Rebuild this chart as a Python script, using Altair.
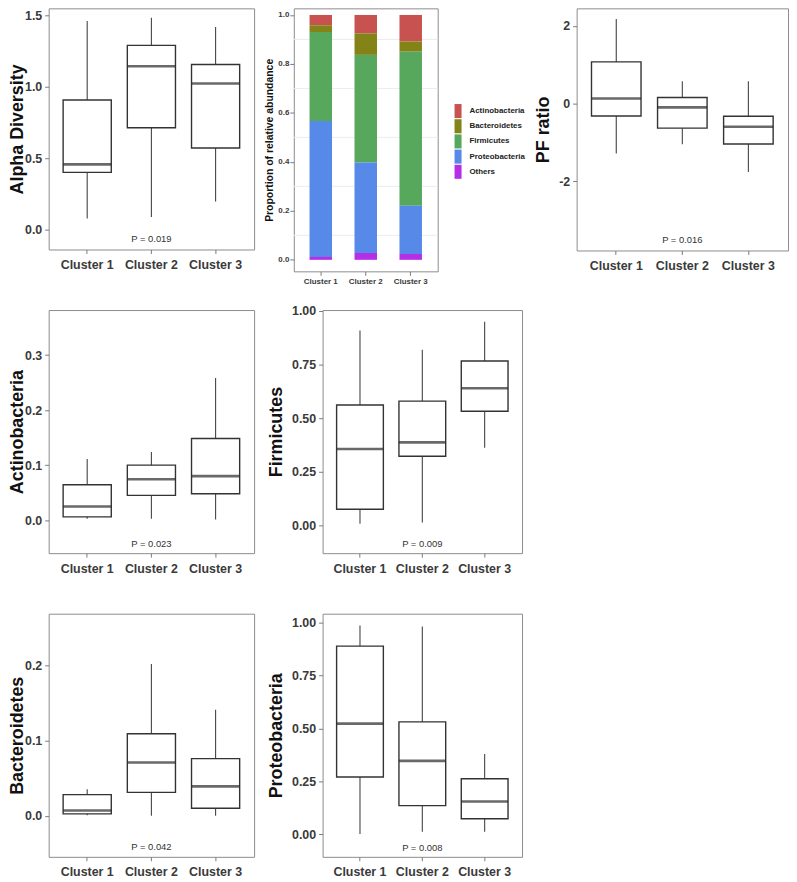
import altair as alt
import pandas as pd

CLUSTERS = ["Cluster 1", "Cluster 2", "Cluster 3"]

# ---- box-plot summaries: lower whisker, Q1, median, Q3, upper whisker ----
ALPHA_LO = [0.079, 0.090, 0.199]
ALPHA_Q1 = [0.402, 0.714, 0.573]
ALPHA_MED = [0.458, 1.144, 1.024]
ALPHA_Q3 = [0.908, 1.290, 1.156]
ALPHA_HI = [1.461, 1.484, 1.419]

PF_LO = [-1.291, -1.053, -1.766]
PF_Q1 = [-0.323, -0.637, -1.045]
PF_MED = [0.127, -0.102, -0.603]
PF_Q3 = [1.070, 0.153, -0.331]
PF_HI = [2.174, 0.569, 0.569]

ACT_LO = [0.0024, 0.0024, 0.0012]
ACT_Q1 = [0.006, 0.045, 0.048]
ACT_MED = [0.0247, 0.0745, 0.080]
ACT_Q3 = [0.0643, 0.100, 0.1485]
ACT_HI = [0.111, 0.124, 0.2585]

FIR_LO = [0.0077, 0.0139, 0.362]
FIR_Q1 = [0.0755, 0.322, 0.532]
FIR_MED = [0.356, 0.387, 0.639]
FIR_Q3 = [0.561, 0.579, 0.766]
FIR_HI = [0.9076, 0.818, 0.949]

BAC_LO = [0.0009, 0.0, 0.0]
BAC_Q1 = [0.0026, 0.0312, 0.0101]
BAC_MED = [0.0070, 0.0708, 0.0391]
BAC_Q3 = [0.0281, 0.109, 0.076]
BAC_HI = [0.0352, 0.2018, 0.141]

PRO_LO = [0.0016, 0.0125, 0.0125]
PRO_Q1 = [0.271, 0.136, 0.0736]
PRO_MED = [0.523, 0.347, 0.155]
PRO_Q3 = [0.889, 0.531, 0.263]
PRO_HI = [0.986, 0.981, 0.380]

# ---- P-value annotations (text, y value) ----
P_ALPHA = ("P = 0.019", -0.065)
P_PF = ("P = 0.016", -3.516)
P_ACT = ("P = 0.023", -0.043)
P_FIR = ("P = 0.009", -0.085)
P_BAC = ("P = 0.042", -0.042)
P_PRO = ("P = 0.008", -0.063)

# ---- relative abundance composition (stacked bars) ----
PHYLA = ["Actinobacteria", "Bacteroidetes", "Firmicutes", "Proteobacteria", "Others"]
PHYLA_COLORS = ["#C8524F", "#848318", "#57A85D", "#5689E8", "#B52FE6"]
STACK_RANK = [4, 3, 2, 1, 0]
COMP = {
    "Actinobacteria": [0.042, 0.075, 0.108],
    "Bacteroidetes": [0.028, 0.088, 0.042],
    "Firmicutes": [0.363, 0.440, 0.629],
    "Proteobacteria": [0.555, 0.369, 0.197],
    "Others": [0.012, 0.028, 0.024],
}
PROP_TICKS = [0.0, 0.2, 0.4, 0.6, 0.8, 1.0]
PROP_MINOR_GRID = [0.1, 0.3, 0.5, 0.7, 0.9]

FONT = "Liberation Sans"


def x_enc(width, label_size=12.5, label_pad=5):
    return alt.X(
        "cluster:N",
        scale=alt.Scale(domain=CLUSTERS, paddingInner=0, paddingOuter=0.1),
        axis=alt.Axis(title=None, labelAngle=0, labelFontSize=label_size, labelPadding=label_pad),
    )


def box_panel(title, lo, q1, med, q3, hi, domain, ticks, fmt, ptxt, width, height, extent, tpad,
              label_expr=None):
    df = pd.DataFrame({"cluster": CLUSTERS, "lo": lo, "q1": q1, "med": med, "q3": q3, "hi": hi})
    pdf = pd.DataFrame({"cluster": ["Cluster 2"], "py": [ptxt[1]], "label": [ptxt[0]]})
    yscale = alt.Scale(domain=domain, nice=False, zero=False)
    axis_kw = dict(title=title, values=ticks, format=fmt, minExtent=extent, maxExtent=extent, titlePadding=tpad)
    if label_expr:
        axis_kw["labelExpr"] = label_expr
    yaxis = alt.Axis(**axis_kw)

    def y(field):
        return alt.Y(field, scale=yscale, axis=yaxis)

    x = x_enc(width)
    step = width / 3.2
    base = alt.Chart(df)
    whisk = base.mark_rule(color="#444444", strokeWidth=1.1).encode(x=x, y=y("lo:Q"), y2="hi:Q")
    box = base.mark_bar(size=step * 0.75, fill="white", stroke="#333333", strokeWidth=1.4).encode(
        x=x, y=y("q1:Q"), y2="q3:Q"
    )
    mline = base.mark_tick(color="#2a2a2a", thickness=2.6, size=step * 0.75).encode(x=x, y=y("med:Q"))
    ptext = alt.Chart(pdf).mark_text(font=FONT, fontSize=9.5, color="#333333").encode(
        x=x, y=y("py:Q"), text="label:N"
    )
    return alt.layer(whisk, box, mline, ptext).properties(width=width, height=height)


# ---- stacked composition panel ----
rows = []
for ph, rank in zip(PHYLA, STACK_RANK):
    for c, v in zip(CLUSTERS, COMP[ph]):
        rows.append({"cluster": c, "phylum": ph, "value": v, "rank": rank})
comp_df = pd.DataFrame(rows)
grid_df = pd.DataFrame({"g": PROP_MINOR_GRID})

W2, H2 = 145, 265
prop_scale = alt.Scale(domain=[-0.047, 1.027], nice=False, zero=False)
prop_axis = alt.Axis(
    title="Proportion of relative abundance", values=PROP_TICKS, format=".1f",
    labelFontSize=8, titleFontSize=10.5, labelPadding=1, minExtent=15, maxExtent=15, titlePadding=4,
)
x2 = x_enc(W2, label_size=8, label_pad=2)
grid = alt.Chart(grid_df).mark_rule(color="#ececec", strokeWidth=1).encode(
    y=alt.Y("g:Q", scale=prop_scale, axis=prop_axis)
)
bars = alt.Chart(comp_df).mark_bar(size=W2 / 3.2 * 0.5).encode(
    x=x2,
    y=alt.Y("value:Q", stack="zero", scale=prop_scale, axis=prop_axis),
    color=alt.Color(
        "phylum:N",
        scale=alt.Scale(domain=PHYLA, range=PHYLA_COLORS),
        legend=alt.Legend(
            title=None, orient="none", legendX=158, legendY=96, padding=0,
            symbolType="M-0.5,-1H0.5V1H-0.5Z", symbolSize=200, symbolStrokeWidth=0,
            labelFont=FONT, labelFontSize=8, labelFontWeight="bold", labelColor="#222222",
            rowPadding=0.3, labelOffset=4,
        ),
    ),
    order=alt.Order("rank:Q", sort="ascending"),
)
p2 = alt.layer(grid, bars).properties(width=W2, height=H2)

# invisible spacer between the composition panel (with its legend) and the PF-ratio panel
spacer = (
    alt.Chart(pd.DataFrame({"s": [0]}))
    .mark_point(opacity=0, size=0)
    .encode(x=alt.value(30), y=alt.value(5))
    .properties(width=60, height=10, view=alt.ViewBackground(strokeOpacity=0))
)

p1 = box_panel("Alpha Diversity", ALPHA_LO, ALPHA_Q1, ALPHA_MED, ALPHA_Q3, ALPHA_HI,
               [-0.137, 1.549], [0, 0.5, 1.0, 1.5], ".1f", P_ALPHA, 207, 243, 22, 0)
p3 = box_panel("PF ratio", PF_LO, PF_Q1, PF_MED, PF_Q3, PF_HI,
               [-3.79, 2.45], [-2, 0, 2], "d", P_PF, 213, 244, 18, 6,
               label_expr="replace(datum.label, '\u2212', '-')")
p4 = box_panel("Actinobacteria", ACT_LO, ACT_Q1, ACT_MED, ACT_Q3, ACT_HI,
               [-0.060, 0.382], [0, 0.1, 0.2, 0.3], ".1f", P_ACT, 207, 245, 22, 0)
p5 = box_panel("Firmicutes", FIR_LO, FIR_Q1, FIR_MED, FIR_Q3, FIR_HI,
               [-0.129, 1.003], [0, 0.25, 0.5, 0.75, 1.0], ".2f", P_FIR, 201, 245, 31, 6)
p6 = box_panel("Bacteroidetes", BAC_LO, BAC_Q1, BAC_MED, BAC_Q3, BAC_HI,
               [-0.0545, 0.2686], [0, 0.1, 0.2], ".1f", P_BAC, 207, 245, 22, 0)
p7 = box_panel("Proteobacteria", PRO_LO, PRO_Q1, PRO_MED, PRO_Q3, PRO_HI,
               [-0.106, 1.042], [0, 0.25, 0.5, 0.75, 1.0], ".2f", P_PRO, 201, 245, 31, 6)

ind = dict(x="independent", y="independent", color="independent")
row1 = alt.hconcat(p1, p2, spacer, p3, spacing=40, bounds="flush").resolve_scale(**ind)
row2 = alt.hconcat(p4, p5, spacing=69, bounds="flush").resolve_scale(**ind)
row3 = alt.hconcat(p6, p7, spacing=69, bounds="flush").resolve_scale(**ind)
lower = alt.vconcat(row2, row3, spacing=38).resolve_scale(**ind)

chart = (
    alt.vconcat(row1, lower, spacing=18)
    .resolve_scale(**ind)
    .properties(padding={"left": 0, "top": -4, "right": 0, "bottom": 0})
    .configure_view(stroke="#8c8c8c", strokeWidth=1)
    .configure_axis(
        domain=False, grid=False, tickColor="#7a7a7a", tickSize=4, tickWidth=1,
        labelFont=FONT, labelFontSize=12.5, labelFontWeight="bold", labelColor="#3a3a3a",
        titleFont=FONT, titleFontWeight="bold", titleFontSize=18, titleColor="#111111",
    )
    .configure_axisY(labelPadding=3)
)

chart.save("out.html", embed_options={"renderer": "svg", "actions": False})
